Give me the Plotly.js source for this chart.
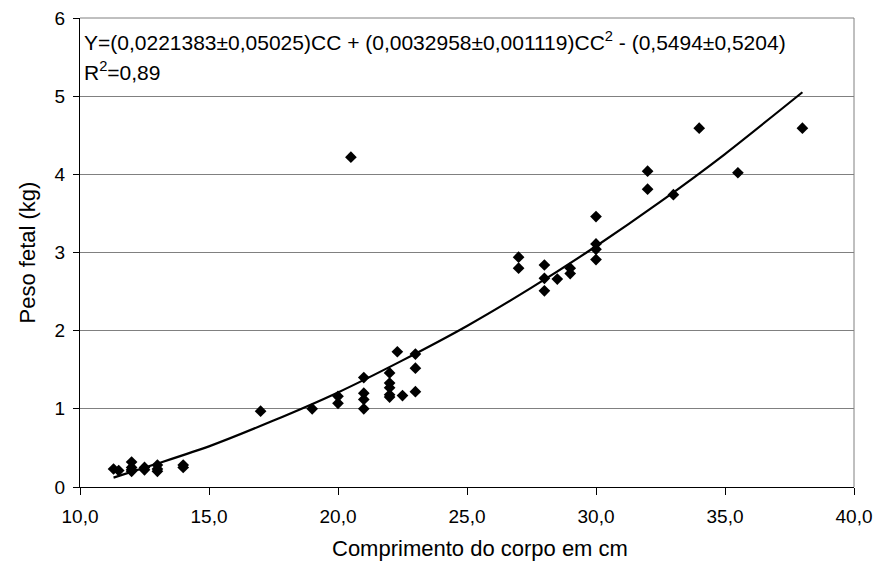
<!DOCTYPE html>
<html>
<head>
<meta charset="utf-8">
<script src="https://cdn.plot.ly/plotly-3.0.1.min.js"></script>
<style>
html, body { margin: 0; padding: 0; background: #ffffff; }
#chart { width: 880px; height: 573px; }
</style>
</head>
<body>
<div id="chart"></div>
<script>
// Observed data: body length (cm) vs fetal weight (kg)
var comprimento = [
  11.3, 11.5,
  12.0, 12.0, 12.0, 12.0,
  12.5, 12.5,
  13.0, 13.0, 13.0,
  14.0, 14.0,
  17.0, 19.0,
  20.0, 20.0, 20.5,
  21.0, 21.0, 21.0, 21.0,
  22.0, 22.0, 22.0, 22.0, 22.0,
  22.3, 22.5,
  23.0, 23.0, 23.0,
  27.0, 27.0,
  28.0, 28.0, 28.0, 28.5,
  29.0, 29.0,
  30.0, 30.0, 30.0, 30.0,
  32.0, 32.0, 33.0, 34.0, 35.5, 38.0
];
var pesoFetal = [
  0.23, 0.21,
  0.32, 0.25, 0.22, 0.20,
  0.25, 0.22,
  0.28, 0.23, 0.20,
  0.28, 0.25,
  0.97, 1.00,
  1.16, 1.07, 4.22,
  1.40, 1.20, 1.12, 1.00,
  1.46, 1.33, 1.27, 1.18, 1.15,
  1.73, 1.17,
  1.70, 1.52, 1.22,
  2.94, 2.80,
  2.84, 2.67, 2.51, 2.66,
  2.80, 2.73,
  3.46, 3.11, 3.04, 2.91,
  4.04, 3.81, 3.74, 4.59, 4.02, 4.59
];

// Trend line
var curvaX = [11.3, 13, 15, 17.5, 20, 22.5, 25, 27.5, 30, 32.5, 35, 38];
var curvaY = [0.12, 0.30, 0.52, 0.85, 1.21, 1.62, 2.06, 2.55, 3.08, 3.65, 4.26, 5.05];

// Axis ticks
var xTicks = [10, 15, 20, 25, 30, 35, 40];
var yTicks = [0, 1, 2, 3, 4, 5, 6];

var equacao = 'Y=(0,0221383±0,05025)CC + (0,0032958±0,001119)CC<sup>2</sup> - (0,5494±0,5204)';
var r2 = 'R<sup>2</sup>=0,89';
var tituloX = 'Comprimento do corpo em cm';
var tituloY = 'Peso fetal (kg)';

var fonte = 'Liberation Sans, Arial, sans-serif';

var traces = [
  {
    x: curvaX, y: curvaY, type: 'scatter', mode: 'lines',
    line: { color: '#000000', width: 2.2, shape: 'spline', smoothing: 0.6 },
    hoverinfo: 'skip', showlegend: false
  },
  {
    x: comprimento, y: pesoFetal, type: 'scatter', mode: 'markers',
    marker: { symbol: 'diamond', size: 9, color: '#000000' },
    showlegend: false
  }
];

var layout = {
  width: 880, height: 573,
  margin: { l: 80, r: 26, t: 18, b: 86 },
  paper_bgcolor: '#ffffff', plot_bgcolor: '#ffffff',
  separators: ',.',
  font: { family: fonte, color: '#000000', size: 18 },
  showlegend: false,
  xaxis: {
    range: [10, 40], tickvals: xTicks, tickformat: '.1f',
    showgrid: false, zeroline: false,
    showline: true, linecolor: '#000000', linewidth: 1,
    ticks: 'outside', ticklen: 7, tickcolor: '#000000',
    ticklabelstandoff: 5,
    tickfont: { family: fonte, size: 19, color: '#000000' }
  },
  yaxis: {
    range: [0, 6], tickvals: yTicks, tickformat: 'd',
    showgrid: true, gridcolor: '#808080', gridwidth: 1,
    zeroline: false,
    showline: true, linecolor: '#000000', linewidth: 1,
    ticks: 'outside', ticklen: 6, tickcolor: '#000000',
    ticklabelstandoff: 4,
    tickfont: { family: fonte, size: 19, color: '#000000' },
    title: { text: tituloY, font: { family: fonte, size: 22, color: '#000000' }, standoff: 12 }
  },
  shapes: [
    { type: 'line', xref: 'paper', yref: 'paper', x0: 0, x1: 1, y0: 1, y1: 1,
      line: { color: '#808080', width: 1 }, layer: 'below' },
    { type: 'line', xref: 'paper', yref: 'paper', x0: 1, x1: 1, y0: 0, y1: 1,
      line: { color: '#808080', width: 1 }, layer: 'below' }
  ],
  annotations: [
    { xref: 'paper', yref: 'paper', x: 0.003, y: 0.952, xanchor: 'left', yanchor: 'middle',
      text: equacao, showarrow: false, align: 'left',
      font: { family: fonte, size: 21, color: '#000000' } },
    { xref: 'paper', yref: 'paper', x: 0.003, y: 0.888, xanchor: 'left', yanchor: 'middle',
      text: r2, showarrow: false, align: 'left',
      font: { family: fonte, size: 21, color: '#000000' } },
    { xref: 'paper', yref: 'paper', x: 0.517, y: -0.13, xanchor: 'center', yanchor: 'middle',
      yshift: -1,
      text: tituloX, showarrow: false,
      font: { family: fonte, size: 22, color: '#000000' } }
  ]
};

Plotly.newPlot('chart', traces, layout, { displayModeBar: false, staticPlot: true });
</script>
</body>
</html>
